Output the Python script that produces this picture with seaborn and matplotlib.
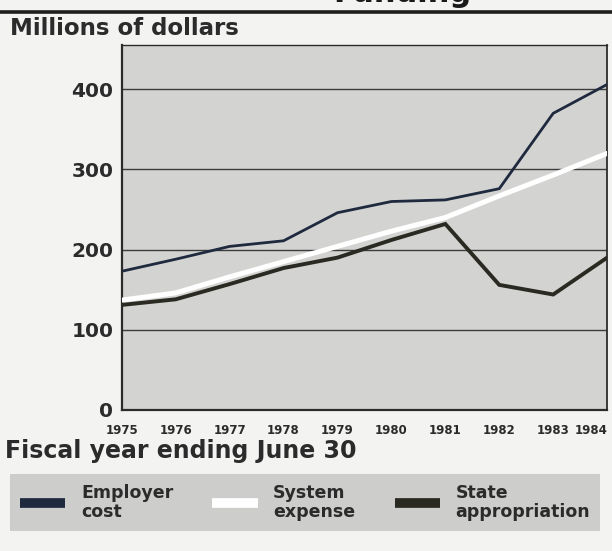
import matplotlib
matplotlib.use("Agg")
import matplotlib.pyplot as plt
from matplotlib.lines import Line2D
import seaborn as sns
import pandas as pd

# Fiscal years (ending June 30)
years = [1975, 1976, 1977, 1978, 1979, 1980, 1981, 1982, 1983, 1984]

# Millions of dollars
employer_cost = [173, 188, 204, 211, 246, 260, 262, 276, 370, 406]
system_expense = [137, 146, 166, 185, 204, 223, 240, 267, 293, 320]
state_appropriation = [131, 138, 157, 177, 190, 212, 232, 156, 144, 190]

series_names = ["Employer\ncost", "System\nexpense", "State\nappropriation"]
series_colors = ["#1f2a3f", "#ffffff", "#2a2a22"]
series_widths = [2.0, 3.6, 2.8]
y_ticks = [0, 100, 200, 300, 400]

df = pd.concat([
    pd.DataFrame({"year": years, "value": vals, "series": name})
    for name, vals in zip(series_names, [employer_cost, system_expense, state_appropriation])
])

sns.set_theme(style="white")
plt.rcParams["font.family"] = ["DejaVu Sans"]
ink = "#2b2b2b"

fig = plt.figure(figsize=(6.12, 5.51), dpi=100)
fig.patch.set_facecolor("#f3f3f2")
ax = fig.add_axes([0.199, 0.256, 0.793, 0.662])
ax.set_facecolor("#d3d3d1")

sns.lineplot(data=df, x="year", y="value", hue="series", palette=series_colors,
             hue_order=series_names, ax=ax, legend=False, sort=False)
for line, lw in zip(ax.get_lines(), series_widths):
    line.set_linewidth(lw)
    line.set_solid_joinstyle("miter")
    line.set_zorder(3)

ax.set_xlim(1975, 1984)
ax.set_ylim(0, 455)
ax.set_yticks(y_ticks)
ax.set_xticks(years)
ax.set_yticklabels([str(t) for t in y_ticks], fontsize=14.5, fontweight="bold", color=ink)
xlabels = ax.set_xticklabels([str(y) for y in years], fontsize=8.5, fontweight="bold", color=ink)
xlabels[-1].set_horizontalalignment("right")
ax.tick_params(axis="y", length=0, pad=6)
ax.tick_params(axis="x", length=5, width=1.2, color=ink, pad=5, direction="out")
for y in y_ticks[1:]:
    ax.axhline(y, color="#3c3c3c", lw=1.0, zorder=2)
for side, lw in zip(["left", "bottom", "right", "top"], [1.6, 1.6, 1.3, 1.0]):
    ax.spines[side].set_color(ink)
    ax.spines[side].set_linewidth(lw)
ax.set_xlabel("")
ax.set_ylabel("")

fig.text(0.016, 0.948, "Millions of dollars", fontsize=16.5, fontweight="bold",
         color=ink, ha="left", va="center")
fig.text(0.008, 0.182, "Fiscal year ending June 30", fontsize=17, fontweight="bold",
         color=ink, ha="left", va="center")

# Header rule with the bottom of the title showing
fig.text(0.77, 1 - 2 / 551, "Funding", fontsize=22, fontweight="bold", color="#1a1a1a",
         ha="right", va="baseline")
fig.add_artist(Line2D([0, 1], [1 - 12 / 551] * 2, lw=2.6, color="#1e1e1e"))

handles = [Line2D([0], [0], color=c, lw=7, solid_capstyle="butt") for c in series_colors]
leg = fig.legend(handles, series_names, loc="lower left", ncol=3, mode="expand",
                 bbox_to_anchor=(0.016, 0.036, 0.965, 0.115), frameon=True,
                 fancybox=False, handlelength=2.6, handletextpad=0.9,
                 borderpad=0.6, borderaxespad=0.0, prop={"weight": "bold", "size": 12.5})
frame = leg.get_frame()
frame.set_facecolor("#cdcdcb")
frame.set_edgecolor("none")
frame.set_alpha(1)
for t in leg.get_texts():
    t.set_color(ink)
    t.set_linespacing(1.05)

fig.savefig("out.png", dpi=100, facecolor=fig.get_facecolor())
